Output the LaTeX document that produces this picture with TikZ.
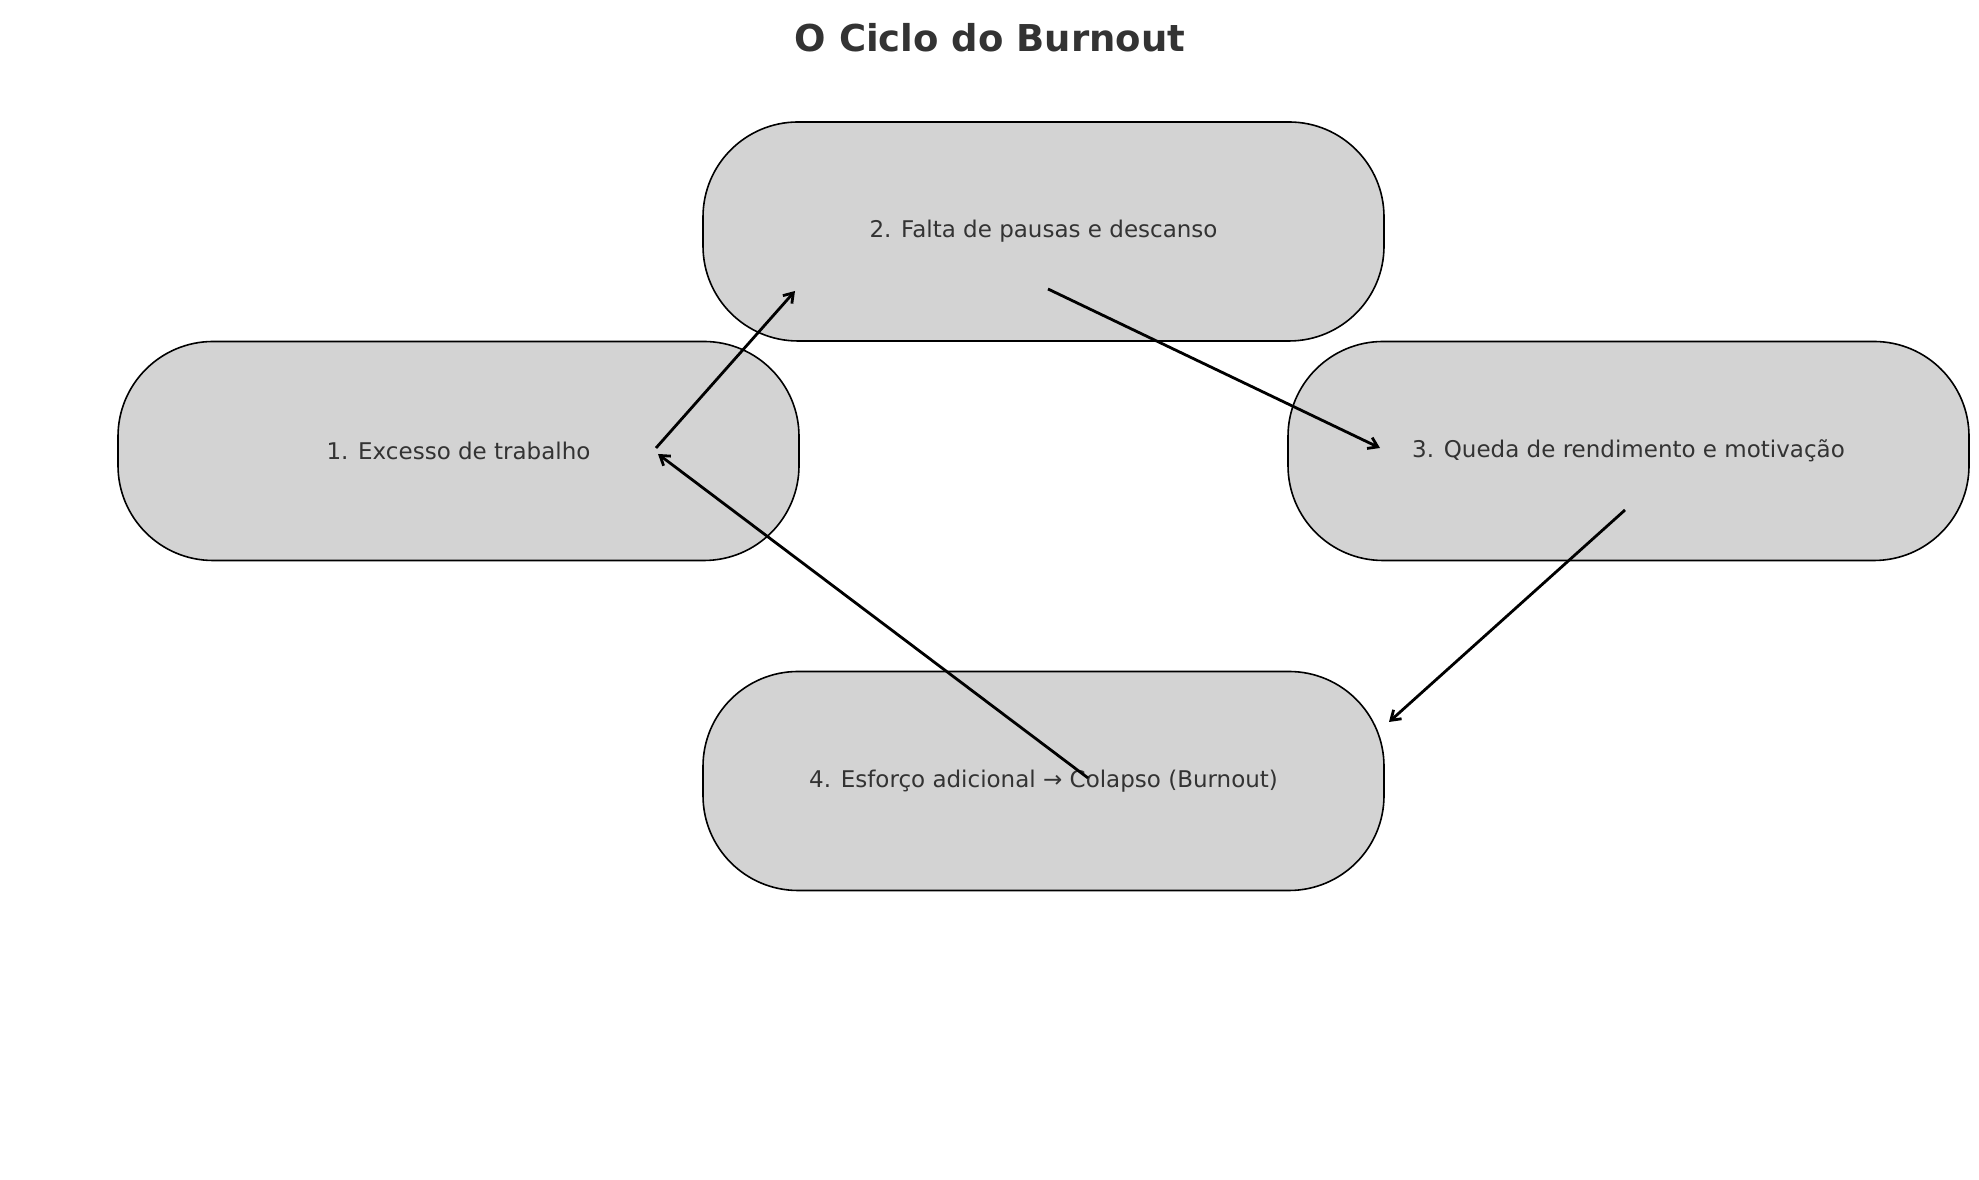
\documentclass[tikz,border=0pt]{standalone}
\usepackage{fontspec}
\setmainfont{DejaVu Sans}
\usetikzlibrary{arrows.meta}
\definecolor{boxgray}{HTML}{D3D3D3}
\definecolor{txtgray}{HTML}{333333}
\begin{document}
\begin{tikzpicture}[x=1pt,y=1pt,
    stage/.style={draw,line width=1.6pt,fill=boxgray,rounded corners=95pt,
      minimum width=681pt,minimum height=219pt,text=txtgray,font=\fontsize{23}{27}\selectfont},
    flow/.style={->,line width=2.8pt,>={Straight Barb[length=9pt,width=12pt]}}]
			\useasboundingbox (0,0) rectangle (1979,1180);
			% title
			\node (title) at (990,1142) [text=txtgray,font=\fontsize{37}{44}\selectfont\bfseries] {O Ciclo do Burnout};

			% the four stages of the cycle
			\node (s2) at (1043.5,948.5) [stage] {2. Falta de pausas e descanso};
			\node (s1) at (458.5,729) [stage] {1. Excesso de trabalho};
			\node (s3) at (1628.5,729) [stage] {3. Queda de rendimento e motivação};
			\node (s4) at (1043.5,399) [stage] {4. Esforço adicional → Colapso (Burnout)};

			% arrow ends
			\coordinate (a1) at (656,732);
			\coordinate (b1) at (795,889);
			\coordinate (a2) at (1048,891);
			\coordinate (b2) at (1380,732);
			\coordinate (a3) at (1625,670);
			\coordinate (b3) at (1389,458);
			\coordinate (a4) at (1088,402);
			\coordinate (b4) at (658,726);

			% draw the cycle
			\draw [flow] (a1) -- (b1);
			\draw [flow] (a2) -- (b2);
			\draw [flow] (a3) -- (b3);
			\draw [flow] (a4) -- (b4);
\end{tikzpicture}
\end{document}
